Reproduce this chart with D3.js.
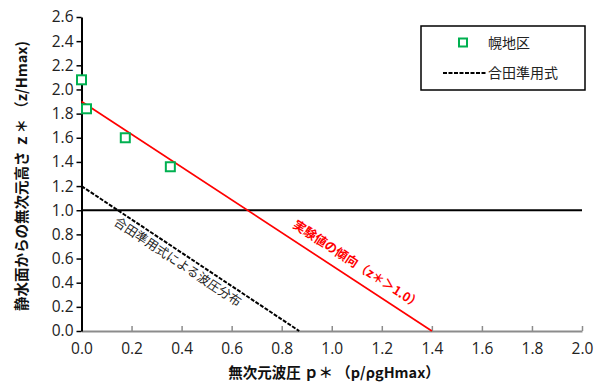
<!DOCTYPE html>
<html><head><meta charset="utf-8">
<script src="https://cdn.jsdelivr.net/npm/d3@7"></script>
<style>body{margin:0;background:#fff}svg{display:block}text{font-family:"Open Sans","Noto Sans CJK JP",sans-serif}</style>
</head><body><svg id="c" width="599" height="383"></svg>
<script>
const obsP = [0.0, 0.02, 0.175, 0.355];
const obsZ = [2.08, 1.84, 1.60, 1.36];
const trendP = [0.0, 1.4];
const trendZ = [1.9, 0.0];
const godaP = [0.0, 0.87];
const godaZ = [1.2, 0.0];
const refP = [0.0, 2.0];
const refZ = [1.0, 1.0];
const xTicks = [0,0.2,0.4,0.6,0.8,1.0,1.2,1.4,1.6,1.8,2.0];
const yTicks = [0,0.2,0.4,0.6,0.8,1.0,1.2,1.4,1.6,1.8,2.0,2.2,2.4,2.6];

const svg = d3.select("#c");
const x = d3.scaleLinear().domain([0,2]).range([81.5,582]);
const y = d3.scaleLinear().domain([0,2.6]).range([331,17]);
const jp = '"Noto Sans CJK JP",sans-serif';

// x axis
const xa = svg.append("g").attr("transform","translate(0,331)")
  .call(d3.axisBottom(x).tickValues(xTicks).tickFormat(d3.format(".1f")).tickSizeInner(-5).tickSizeOuter(0).tickPadding(12));
xa.select(".domain").attr("stroke","#8c8c8c").attr("stroke-width",2);
xa.selectAll(".tick line").attr("stroke","#8c8c8c").attr("stroke-width",1.5);
xa.selectAll("text").attr("font-size",15.5).attr("fill","#222");

// y axis
const ya = svg.append("g").attr("transform","translate(81.5,0)")
  .call(d3.axisLeft(y).tickValues(yTicks).tickFormat(d3.format(".1f")).tickSizeInner(5).tickSizeOuter(0).tickPadding(3));
ya.select(".domain").attr("stroke","#000").attr("stroke-width",2);
ya.selectAll(".tick line").attr("stroke","#000").attr("stroke-width",1.5);
ya.selectAll("text").attr("font-size",15.5).attr("fill","#222");

const line = d3.line().x(d=>x(d[0])).y(d=>y(d[1]));
svg.append("path").attr("d",line(d3.zip(refP,refZ))).attr("stroke","#000").attr("stroke-width",2).attr("fill","none");
svg.append("path").attr("d",line(d3.zip(trendP,trendZ))).attr("stroke","#ff0000").attr("stroke-width",1.7).attr("fill","none");
svg.append("path").attr("d",line(d3.zip(godaP,godaZ))).attr("stroke","#000").attr("stroke-width",2).attr("stroke-dasharray","4,1.5").attr("fill","none");

svg.append("g").selectAll("rect").data(d3.zip(obsP,obsZ)).join("rect")
  .attr("x",d=>x(d[0])-4.5).attr("y",d=>y(d[1])-4.5).attr("width",9).attr("height",9)
  .attr("fill","#fff").attr("stroke","#00b050").attr("stroke-width",2);

// annotations
const a1 = Math.atan2(y(godaZ[1])-y(godaZ[0]), x(godaP[1])-x(godaP[0]))*180/Math.PI;
svg.append("text").attr("transform",`translate(113,224) rotate(${a1})`)
  .attr("font-size",12.5).attr("fill","#222").style("font-family",jp).text("合田準用式による波圧分布");
const a2 = Math.atan2(y(trendZ[1])-y(trendZ[0]), x(trendP[1])-x(trendP[0]))*180/Math.PI;
svg.append("text").attr("transform",`translate(292,227) rotate(${a2})`)
  .attr("font-size",12.5).attr("font-weight","bold").attr("fill","#ff0000").style("font-family",jp).text("実験値の傾向（z＊＞1.0）");

// legend
svg.append("rect").attr("x",421).attr("y",26).attr("width",164).attr("height",64).attr("fill","#fff").attr("stroke","#000").attr("stroke-width",1.5);
svg.append("rect").attr("x",459).attr("y",38.5).attr("width",8).attr("height",8).attr("fill","#fff").attr("stroke","#00b050").attr("stroke-width",2);
svg.append("text").attr("x",488).attr("y",48).attr("font-size",14).attr("fill","#222").style("font-family",jp).text("幌地区");
svg.append("line").attr("x1",443).attr("x2",486).attr("y1",73).attr("y2",73).attr("stroke","#000").attr("stroke-width",2).attr("stroke-dasharray","4,1.5");
svg.append("text").attr("x",488).attr("y",78).attr("font-size",14).attr("fill","#222").style("font-family",jp).text("合田準用式");

// axis titles
svg.append("text").attr("x",334).attr("y",378).attr("text-anchor","middle").attr("font-size",14.5).attr("font-weight","bold").attr("fill","#111").style("font-family",jp)
  .text("無次元波圧 ｐ＊ （p/ρgHmax）");
svg.append("text").attr("transform","translate(27,176) rotate(-90)").attr("text-anchor","middle").attr("font-size",14.5).attr("font-weight","bold").attr("fill","#111").style("font-family",jp)
  .text("静水面からの無次元高さ ｚ＊ （z/Hmax)");
</script></body></html>
